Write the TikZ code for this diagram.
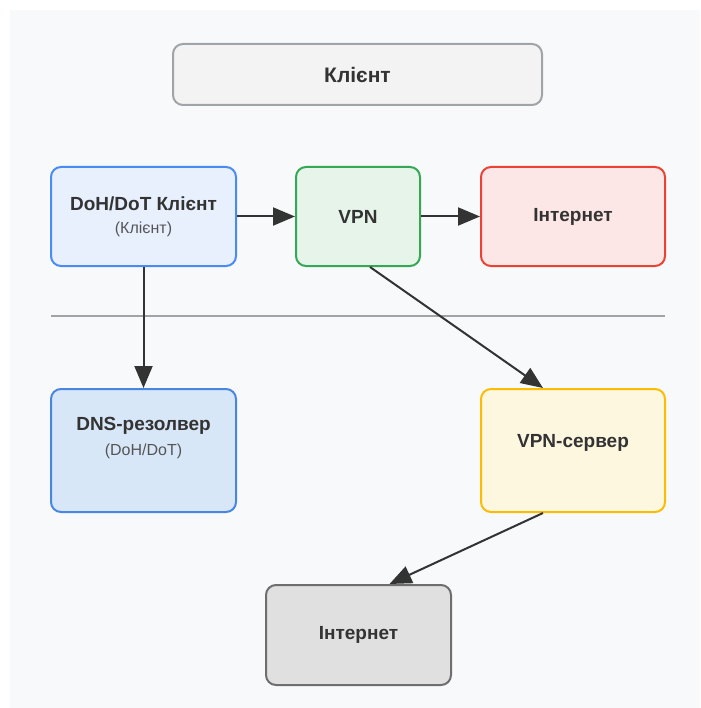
\documentclass[tikz,border=0pt]{standalone}
\usepackage{fontspec}
\setmainfont{Liberation Sans}
\usetikzlibrary{arrows.meta}
\definecolor{panel}{HTML}{F8F9FA}
\definecolor{txt}{HTML}{333333}
\definecolor{subtxt}{HTML}{555555}
\definecolor{titlefill}{HTML}{F3F3F3}
\definecolor{titledraw}{HTML}{A0A4A8}
\definecolor{dohfill}{HTML}{E8F0FE}
\definecolor{dohdraw}{HTML}{4A8AF4}
\definecolor{vpnfill}{HTML}{E6F4EA}
\definecolor{vpndraw}{HTML}{34A853}
\definecolor{redfill}{HTML}{FDE7E6}
\definecolor{reddraw}{HTML}{EA4335}
\definecolor{dnsfill}{HTML}{D8E7F8}
\definecolor{dnsdraw}{HTML}{4A86E0}
\definecolor{srvfill}{HTML}{FEF7E0}
\definecolor{srvdraw}{HTML}{FBBC04}
\definecolor{grayfill}{HTML}{E0E0E0}
\definecolor{graydraw}{HTML}{6E6E6E}
\definecolor{sepcol}{HTML}{A0A4A8}
\tikzset{
  box/.style={rectangle, rounded corners=10pt, line width=2pt, inner sep=0pt, text=txt, font=\fontsize{19}{22}\selectfont\bfseries, align=center},
  subt/.style={font=\fontsize{16}{19}\selectfont, text=subtxt, inner sep=0pt},
  lbl/.style={text=txt, font=\fontsize{19}{22}\selectfont\bfseries, inner sep=0pt},
  conn/.style={draw=txt, line width=2pt, -{Triangle[length=22pt,width=18pt]}}
}
\begin{document}
\begin{tikzpicture}[x=1pt,y=-1pt]
\useasboundingbox (0,0) rectangle (700,708);
\fill[white] (0,0) rectangle (700,708);
\fill[panel] (10,10) rectangle (700,708);
% title
\node[box, fill=titlefill, draw=titledraw, minimum width=369pt, minimum height=61pt, font=\fontsize{21}{24}\selectfont\bfseries] (client) at (357.5,74.5) {Клієнт};
% row 1
\node[box, fill=dohfill, draw=dohdraw, minimum width=185pt, minimum height=99pt] (doh) at (143.5,216.5) {};
\node[lbl] (dohtitle) at (143.5,204) {DoH/DoT Клієнт};
\node[subt] (dohsub) at (143.5,229) {(Клієнт)};
\node[box, fill=vpnfill, draw=vpndraw, minimum width=124pt, minimum height=99pt] (vpn) at (358,216.5) {VPN};
\node[box, fill=redfill, draw=reddraw, minimum width=184pt, minimum height=99pt] (inet1) at (573,216.5) {Інтернет};
% separator
\draw[sepcol, line width=2pt] (51,316) -- (665,316);
% row 2
\node[box, fill=dnsfill, draw=dnsdraw, minimum width=185pt, minimum height=123pt] (dns) at (143.5,450.5) {};
\node[lbl] (dnstitle) at (143.5,426) {DNS-резолвер};
\node[subt] (dnssub) at (143.5,451) {(DoH/DoT)};
\node[box, fill=srvfill, draw=srvdraw, minimum width=184pt, minimum height=123pt] (srv) at (573,450.5) {};
\node[lbl] (srvtitle) at (573,443) {VPN-сервер};
% bottom
\node[box, fill=grayfill, draw=graydraw, minimum width=185pt, minimum height=100pt] (inet2) at (358.5,635) {Інтернет};
% connectors
\coordinate (vpnout) at ([xshift=12pt]vpn.south);
\coordinate (srvin) at ([xshift=-30pt]srv.north);
\coordinate (srvout) at ([xshift=-30pt]srv.south);
\coordinate (inetin) at ([xshift=31pt]inet2.north);
\draw[conn] (doh.east) -- (vpn.west);
\draw[conn] (vpn.east) -- (inet1.west);
\draw[conn] (doh.south) -- (dns.north);
\draw[conn] (vpnout) -- (srvin);
\draw[conn] (srvout) -- (inetin);
\end{tikzpicture}
\end{document}
